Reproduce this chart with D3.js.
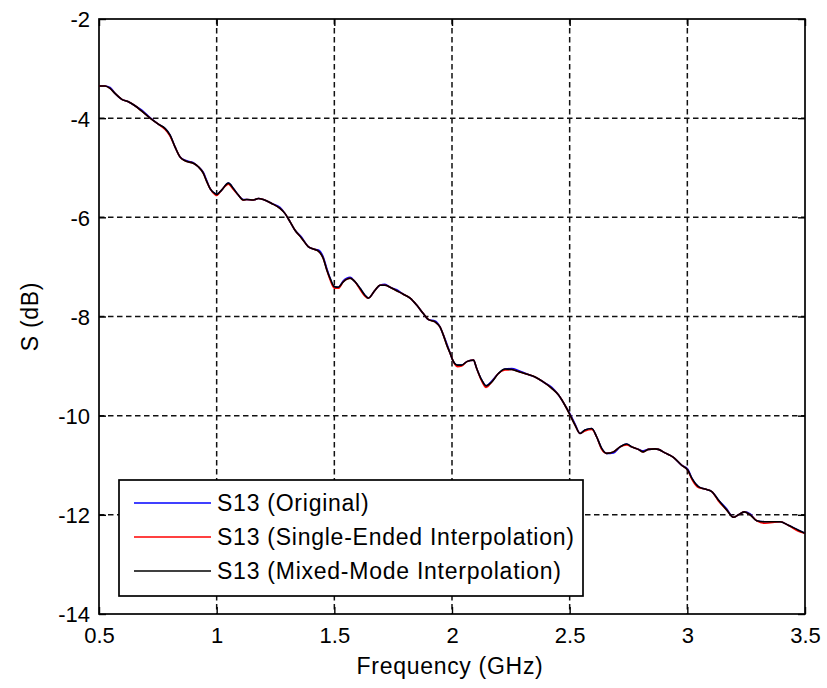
<!DOCTYPE html>
<html>
<head>
<meta charset="utf-8">
<script src="https://cdn.jsdelivr.net/npm/d3@7"></script>
<style>
  html, body { margin: 0; padding: 0; background: #fff; }
  svg { display: block; }
  text { font-family: "Liberation Sans", Arial, Helvetica, sans-serif; fill: #000; }
</style>
</head>
<body>
<svg id="chart" width="827" height="688"></svg>
<script>
// Frequency points (GHz)
const freq = [0.50,0.526,0.547,0.568,0.597,0.625,0.653,0.682,0.717,0.752,0.781,0.802,0.823,0.844,0.866,0.901,0.922,0.943,0.958,0.972,0.993,1.000,1.021,1.050,1.071,1.092,1.113,1.128,1.156,1.177,1.198,1.234,1.269,1.290,1.312,1.333,1.361,1.389,1.411,1.432,1.453,1.468,1.482,1.500,1.517,1.538,1.567,1.588,1.609,1.630,1.644,1.673,1.694,1.715,1.737,1.765,1.793,1.822,1.850,1.878,1.899,1.928,1.949,1.963,1.978,1.992,2.003,2.023,2.041,2.063,2.091,2.105,2.126,2.145,2.169,2.197,2.225,2.254,2.282,2.324,2.353,2.388,2.424,2.452,2.480,2.502,2.523,2.544,2.565,2.594,2.615,2.636,2.657,2.686,2.714,2.742,2.764,2.792,2.813,2.834,2.863,2.877,2.905,2.941,2.976,3.002,3.019,3.047,3.075,3.104,3.132,3.167,3.196,3.217,3.242,3.267,3.295,3.330,3.394,3.429,3.472,3.500];

// S13 (Original), dB
const s13Original = [-3.35,-3.35,-3.38,-3.50,-3.62,-3.67,-3.75,-3.84,-3.99,-4.12,-4.21,-4.34,-4.58,-4.78,-4.85,-4.90,-4.98,-5.09,-5.26,-5.42,-5.52,-5.54,-5.45,-5.31,-5.42,-5.55,-5.64,-5.64,-5.65,-5.62,-5.64,-5.72,-5.80,-5.92,-6.09,-6.26,-6.40,-6.59,-6.64,-6.66,-6.80,-7.03,-7.23,-7.40,-7.41,-7.28,-7.21,-7.30,-7.43,-7.57,-7.63,-7.47,-7.37,-7.35,-7.41,-7.46,-7.55,-7.63,-7.77,-7.94,-8.06,-8.09,-8.21,-8.37,-8.55,-8.74,-8.88,-8.98,-8.98,-8.91,-8.88,-9.05,-9.28,-9.40,-9.30,-9.15,-9.06,-9.05,-9.09,-9.17,-9.22,-9.32,-9.43,-9.58,-9.79,-9.97,-10.17,-10.36,-10.29,-10.26,-10.43,-10.66,-10.76,-10.75,-10.63,-10.57,-10.63,-10.68,-10.71,-10.68,-10.67,-10.68,-10.75,-10.84,-11.00,-11.08,-11.26,-11.43,-11.48,-11.53,-11.70,-11.88,-12.05,-12.00,-11.94,-11.98,-12.12,-12.14,-12.14,-12.21,-12.31,-12.37];

// S13 (Single-Ended Interpolation), dB
const s13SingleEnded = [-3.35,-3.35,-3.40,-3.50,-3.62,-3.67,-3.75,-3.86,-4.00,-4.12,-4.23,-4.36,-4.58,-4.78,-4.86,-4.91,-4.98,-5.11,-5.28,-5.42,-5.54,-5.56,-5.45,-5.33,-5.44,-5.55,-5.65,-5.64,-5.65,-5.62,-5.64,-5.72,-5.82,-5.92,-6.09,-6.26,-6.42,-6.59,-6.64,-6.68,-6.83,-7.06,-7.26,-7.43,-7.43,-7.30,-7.23,-7.30,-7.45,-7.59,-7.63,-7.47,-7.37,-7.37,-7.41,-7.48,-7.55,-7.63,-7.77,-7.94,-8.06,-8.11,-8.21,-8.37,-8.58,-8.74,-8.88,-9.01,-9.00,-8.91,-8.88,-9.05,-9.30,-9.43,-9.32,-9.15,-9.08,-9.07,-9.11,-9.17,-9.22,-9.32,-9.45,-9.58,-9.79,-9.99,-10.19,-10.36,-10.31,-10.28,-10.43,-10.68,-10.76,-10.73,-10.63,-10.59,-10.63,-10.68,-10.73,-10.68,-10.67,-10.68,-10.75,-10.84,-11.00,-11.10,-11.28,-11.45,-11.48,-11.53,-11.72,-11.90,-12.05,-12.00,-11.94,-12.00,-12.12,-12.17,-12.14,-12.21,-12.33,-12.37];

// S13 (Mixed-Mode Interpolation), dB
const s13MixedMode = [-3.35,-3.35,-3.40,-3.50,-3.62,-3.67,-3.75,-3.86,-4.00,-4.12,-4.21,-4.34,-4.58,-4.78,-4.86,-4.91,-4.98,-5.11,-5.28,-5.42,-5.52,-5.54,-5.45,-5.31,-5.42,-5.55,-5.65,-5.64,-5.65,-5.62,-5.64,-5.72,-5.82,-5.92,-6.09,-6.26,-6.42,-6.59,-6.64,-6.68,-6.83,-7.06,-7.23,-7.40,-7.41,-7.30,-7.23,-7.30,-7.43,-7.57,-7.63,-7.47,-7.37,-7.37,-7.41,-7.48,-7.55,-7.63,-7.77,-7.94,-8.06,-8.11,-8.21,-8.37,-8.58,-8.74,-8.88,-8.98,-8.98,-8.91,-8.88,-9.05,-9.28,-9.40,-9.32,-9.15,-9.06,-9.07,-9.11,-9.17,-9.22,-9.32,-9.45,-9.58,-9.79,-9.99,-10.19,-10.36,-10.29,-10.26,-10.43,-10.66,-10.76,-10.73,-10.63,-10.57,-10.63,-10.68,-10.73,-10.68,-10.67,-10.68,-10.75,-10.84,-11.00,-11.10,-11.26,-11.43,-11.48,-11.53,-11.70,-11.90,-12.05,-12.00,-11.94,-12.00,-12.12,-12.14,-12.14,-12.21,-12.31,-12.37];

const xTicks = [0.5, 1, 1.5, 2, 2.5, 3, 3.5];
const xTickLabels = ["0.5", "1", "1.5", "2", "2.5", "3", "3.5"];
const yTicks = [-2, -4, -6, -8, -10, -12, -14];
const yTickLabels = ["-2", "-4", "-6", "-8", "-10", "-12", "-14"];

const seriesNames = ["S13 (Original)", "S13 (Single-Ended Interpolation)", "S13 (Mixed-Mode Interpolation)"];
const seriesColors = ["#0000ff", "#ff0000", "#000000"];
const seriesValues = [s13Original, s13SingleEnded, s13MixedMode];

const svg = d3.select("#chart");
const plot = { left: 99, right: 805, top: 19, bottom: 614 };

const x = d3.scaleLinear().domain([0.5, 3.5]).range([plot.left, plot.right]);
const y = d3.scaleLinear().domain([-14, -2]).range([plot.bottom, plot.top]);

svg.append("rect").attr("width", 827).attr("height", 688).attr("fill", "#fff");

// dashed grid
const grid = svg.append("g").attr("stroke", "#111").attr("stroke-width", 1.5)
  .attr("stroke-dasharray", "5.5,3.5");
grid.selectAll("line.gx").data(xTicks.slice(1, -1)).join("line")
  .attr("x1", d => x(d)).attr("x2", d => x(d))
  .attr("y1", plot.top).attr("y2", plot.bottom);
grid.selectAll("line.gy").data(yTicks.slice(1, -1)).join("line")
  .attr("y1", d => y(d)).attr("y2", d => y(d))
  .attr("x1", plot.left).attr("x2", plot.right);

// axes with inward ticks on all four sides
const tickLen = 7;
const axB = d3.axisBottom(x).tickValues(xTicks).tickSize(-tickLen).tickFormat((d, i) => xTickLabels[i]);
const axT = d3.axisTop(x).tickValues(xTicks).tickSize(-tickLen).tickFormat("");
const axL = d3.axisLeft(y).tickValues(yTicks).tickSize(-tickLen).tickFormat((d, i) => yTickLabels[i]);
const axR = d3.axisRight(y).tickValues(yTicks).tickSize(-tickLen).tickFormat("");

function styleAxis(g) {
  g.select(".domain").remove();
  g.selectAll(".tick line").attr("stroke", "#000").attr("stroke-width", 1.4);
  g.selectAll("text").attr("font-size", 22).attr("font-family", null).attr("fill", "#000");
}

svg.append("g").attr("transform", `translate(0,${plot.bottom})`).call(axB).call(styleAxis)
  .selectAll("text").attr("dy", null).attr("y", 29);
svg.append("g").attr("transform", `translate(0,${plot.top})`).call(axT).call(styleAxis);
svg.append("g").attr("transform", `translate(${plot.left},0)`).call(axL).call(styleAxis)
  .selectAll("text").attr("x", -9).attr("dy", "0.36em");
svg.append("g").attr("transform", `translate(${plot.right},0)`).call(axR).call(styleAxis);

// frame
svg.append("rect")
  .attr("x", plot.left).attr("y", plot.top)
  .attr("width", plot.right - plot.left).attr("height", plot.bottom - plot.top)
  .attr("fill", "none").attr("stroke", "#000").attr("stroke-width", 1.7);

// series lines
const line = d3.line().x(d => x(d[0])).y(d => y(d[1])).curve(d3.curveMonotoneX);
seriesValues.forEach((vals, i) => {
  svg.append("path")
    .datum(freq.map((f, k) => [f, vals[k]]))
    .attr("d", line)
    .attr("fill", "none")
    .attr("stroke", seriesColors[i])
    .attr("stroke-width", 1.6)
    .attr("stroke-linejoin", "round");
});

// axis titles
svg.append("text").attr("x", (plot.left + plot.right) / 2 - 2).attr("y", 674)
  .attr("text-anchor", "middle").attr("font-size", 23).attr("letter-spacing", 0.7)
  .text("Frequency (GHz)");
svg.append("text")
  .attr("transform", `translate(38,${(plot.top + plot.bottom) / 2}) rotate(-90)`)
  .attr("text-anchor", "middle").attr("font-size", 23).attr("letter-spacing", 0.7)
  .text("S (dB)");

// legend
const lg = { x: 119, y: 480, w: 464, h: 116 };
const legend = svg.append("g");
legend.append("rect").attr("x", lg.x).attr("y", lg.y).attr("width", lg.w).attr("height", lg.h)
  .attr("fill", "#fff").attr("stroke", "#000").attr("stroke-width", 1.7);
seriesNames.forEach((name, i) => {
  const cy = 503 + i * 34;
  legend.append("line").attr("x1", 134).attr("x2", 211).attr("y1", cy).attr("y2", cy)
    .attr("stroke", seriesColors[i]).attr("stroke-width", 1.6);
  legend.append("text").attr("x", 217).attr("y", cy + 8)
    .attr("font-size", 23).attr("letter-spacing", 0.75).text(name);
});
</script>
</body>
</html>
